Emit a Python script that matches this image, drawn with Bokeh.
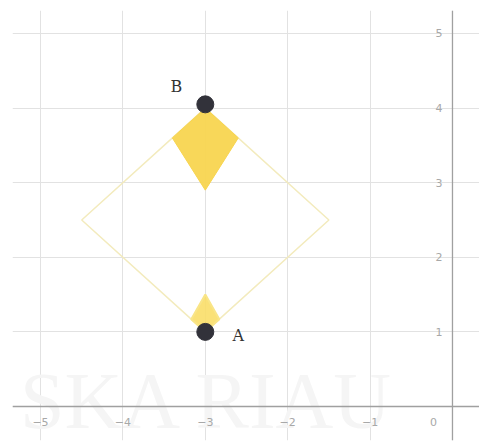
from bokeh.plotting import figure
from bokeh.models import Span, Range1d, SingleIntervalTicker
from bokeh.core.properties import value
from bokeh.embed import file_html
from bokeh.resources import INLINE

# data
x_ticks = [-5, -4, -3, -2, -1]
x_tick_labels = ["−5", "−4", "−3", "−2", "−1"]
y_ticks = [1, 2, 3, 4, 5]
y_tick_labels = ["1", "2", "3", "4", "5"]
square_x = [-3, -1.5, -3, -4.5]
square_y = [4, 2.5, 1, 2.5]
top_kite_x = [-3, -2.6, -3, -3.4]
top_kite_y = [4, 3.6, 2.9, 3.6]
bottom_kite_x = [-3, -2.83, -3, -3.17]
bottom_kite_y = [1, 1.17, 1.5, 1.17]
point_names = ["B", "A"]
point_x = [-3, -3]
point_y = [4.05, 1]

p = figure(width=479, height=444, output_backend="svg", toolbar_location=None,
           x_range=Range1d(-5.34, 0.328), y_range=Range1d(-0.456, 5.308),
           min_border_left=12, min_border_top=10, min_border_right=0, min_border_bottom=4)
p.xaxis.visible = False
p.yaxis.visible = False
p.outline_line_color = None
p.background_fill_color = "white"
p.xgrid.ticker = SingleIntervalTicker(interval=1)
p.ygrid.ticker = SingleIntervalTicker(interval=1)
p.xgrid.grid_line_color = "#e2e2e2"
p.ygrid.grid_line_color = "#e2e2e2"
p.xgrid.grid_line_width = 1
p.ygrid.grid_line_width = 1

# faint watermark
p.text(x=[-5.25], y=[0.08], text=["SKA RIAU"], text_font=value("Liberation Serif"),
       text_font_size="80px", text_color="#f5f5f5", text_baseline="alphabetic",
       text_align="left")

# axes lines
p.add_layout(Span(location=0, dimension="width", line_color="#a0a0a0", line_width=1.3))
p.add_layout(Span(location=0, dimension="height", line_color="#a0a0a0", line_width=1.3))

# tick labels
p.text(x=x_ticks, y=[0] * len(x_ticks), text=x_tick_labels, text_font=value("DejaVu Sans"),
       text_font_size="11px", text_color="#a8a8a8", text_align="center",
       text_baseline="top", y_offset=12)
p.text(x=[0], y=[0], text=["0"], text_font=value("DejaVu Sans"),
       text_font_size="11px", text_color="#a8a8a8", text_align="center",
       text_baseline="top", x_offset=-19, y_offset=12)
p.text(x=[0] * len(y_ticks), y=y_ticks, text=y_tick_labels, text_font=value("DejaVu Sans"),
       text_font_size="11px", text_color="#a8a8a8", text_align="right",
       text_baseline="middle", x_offset=-10)

# square outline
p.patch(square_x, square_y, fill_color=None, line_color="#f3ebbd", line_width=1.5)

# kites
p.patch(top_kite_x, top_kite_y, fill_color="#f8d550", line_color="#f8d550",
        line_width=1, fill_alpha=0.95)
p.patch(bottom_kite_x, bottom_kite_y, fill_color="#f9de68", line_color="#f9e588",
        line_width=2, fill_alpha=0.9)

# points
p.scatter(point_x, point_y, size=17, color="#32323a")
p.text(x=[point_x[0]], y=[point_y[0]], text=[point_names[0]], text_font=value("DejaVu Serif"),
       text_font_size="16px", text_color="#333333", text_align="center",
       text_baseline="middle", x_offset=-29, y_offset=-18)
p.text(x=[point_x[1]], y=[point_y[1]], text=[point_names[1]], text_font=value("DejaVu Serif"),
       text_font_size="16px", text_color="#333333", text_align="center",
       text_baseline="middle", x_offset=33, y_offset=4)

open("out.html", "w").write(file_html(p, INLINE))
